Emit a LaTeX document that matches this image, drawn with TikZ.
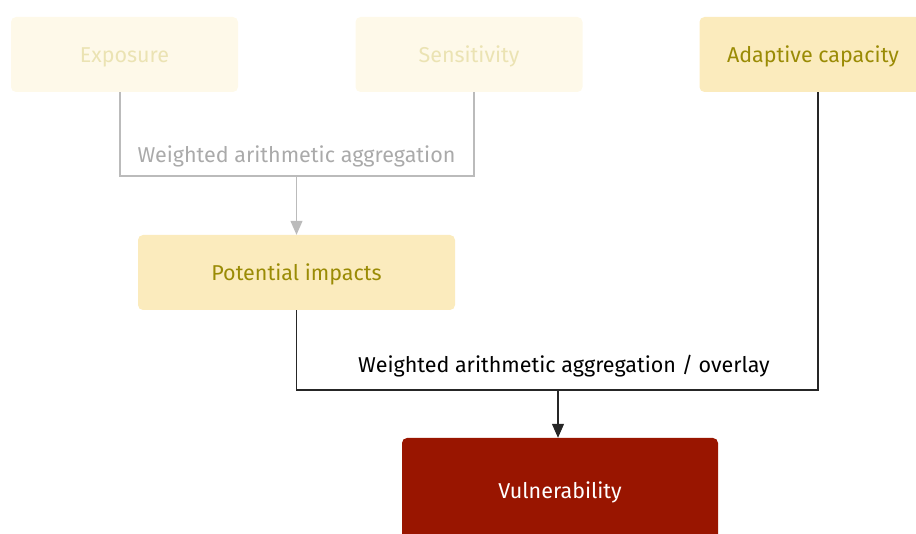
\documentclass[tikz,border=0pt]{standalone}
\usepackage{fontspec}
\setmainfont{Fira Sans}
\usetikzlibrary{arrows.meta}
\definecolor{palefill}{HTML}{FEF9E9}
\definecolor{paletext}{HTML}{EBE3B3}
\definecolor{boxfill}{HTML}{FBEBBD}
\definecolor{boxtext}{HTML}{9A8B05}
\definecolor{vulnfill}{HTML}{991500}
\definecolor{fadedline}{HTML}{BBBBBB}
\definecolor{fadedtext}{HTML}{AAAAAA}

\begin{document}
\begin{tikzpicture}[x=1pt, y=-1pt,
	every node/.style={font=\fontsize{21.5}{26}\selectfont},
	box/.style={rounded corners=5pt, minimum width=227pt, minimum height=75pt, inner sep=0pt, text height=17pt, text depth=0pt},
	fadedbox/.style={box, fill=palefill, text=paletext},
	mainbox/.style={box, fill=boxfill, text=boxtext},
	fadedlink/.style={draw=fadedline, line width=1.2pt},
	mainlink/.style={draw=black!85, line width=1.2pt},
	tip/.style={-{Triangle[length=14pt, width=12pt]}}]
	\useasboundingbox (0,0) rectangle (916,534);
	\node[fadedbox] (exp) at (124.5,54.5) {Exposure};
	\node[fadedbox] (sen) at (469,54.5) {Sensitivity};
	\node[mainbox] (ac) at (813,54.5) {Adaptive capacity};
	\node[mainbox, minimum width=317pt] (pi) at (296.5,272.5) {Potential impacts};
	\node[box, fill=vulnfill, text=white, minimum width=316pt, minimum height=104pt] (vul) at (560,490) {Vulnerability};
	% junctions
	\coordinate (j1) at (296.5,176);
	\coordinate (j2) at (558,390);
	\draw[fadedlink] ([xshift=-4.5pt]exp.south) |- (j1) -| ([xshift=5pt]sen.south);
	\node[text=fadedtext, anchor=south] (lab1) at ([yshift=5pt]j1) {Weighted arithmetic aggregation};
	\draw[fadedlink, tip, fadedline] (j1) -- (pi.north);
	\draw[mainlink] (pi.south) |- (j2) -| ([xshift=5pt]ac.south);
	\node[anchor=south] (lab2) at ([yshift=9pt, xshift=6pt]j2) {Weighted arithmetic aggregation / overlay};
	\draw[mainlink, tip] (j2) -- (j2 |- vul.north);
\end{tikzpicture}
\end{document}
